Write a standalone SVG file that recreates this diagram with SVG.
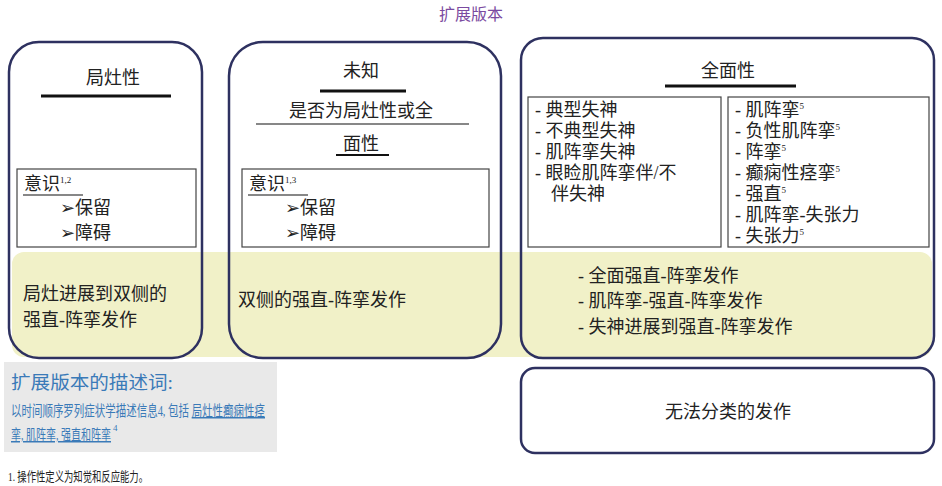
<svg xmlns="http://www.w3.org/2000/svg" width="942" height="486" viewBox="0 0 942 486">
<style>
text{font-family:"Liberation Serif","Noto Sans CJK SC",serif;fill:#222;font-size:18px}
.c{text-anchor:middle}
.box{fill:none;stroke:#2e3160;stroke-width:2.5}
.in{fill:#fff;stroke:#444;stroke-width:1.2}
.ul{stroke:#111;stroke-width:3}
.tl{stroke:#111;stroke-width:1.2}
.b{fill:#3a7ab8}
.sup{font-size:9px}
</style>
<rect width="942" height="486" fill="#fff"/>
<text class="c" x="471" y="20" style="fill:#7a4aa0;font-size:16px">扩展版本</text>
<rect x="12" y="252" width="920" height="105" rx="12" fill="#f1f1c8"/>
<g id="focal">
<rect class="box" x="9" y="42" width="193" height="316" rx="30"/>
<text class="c" x="113" y="84">局灶性</text>
<line class="ul" x1="41" y1="96" x2="171" y2="96"/>
<rect class="in" x="17" y="169" width="179" height="78"/>
<text x="24" y="190">意识<tspan class="sup" dy="-7">1,2</tspan></text>
<line class="tl" x1="23" y1="195" x2="83" y2="195"/>
<text x="60" y="214">➢保留</text>
<text x="60" y="239">➢障碍</text>
<text x="23" y="300">局灶进展到双侧的</text>
<text x="23" y="326">强直-阵挛发作</text>
</g>
<g id="unknown">
<rect class="box" x="229" y="42" width="272" height="316" rx="34"/>
<text class="c" x="361" y="77">未知</text>
<line class="ul" x1="320" y1="91" x2="406" y2="91"/>
<text class="c" x="361" y="117">是否为局灶性或全</text>
<line class="tl" x1="256" y1="124" x2="469" y2="124"/>
<text class="c" x="361" y="150">面性</text>
<line class="tl" x1="336" y1="155" x2="389" y2="155" style="stroke-width:2"/>
<rect class="in" x="242" y="169" width="247" height="78"/>
<text x="249" y="190">意识<tspan class="sup" dy="-7">1,3</tspan></text>
<line class="tl" x1="248" y1="195" x2="308" y2="195"/>
<text x="285" y="214">➢保留</text>
<text x="285" y="239">➢障碍</text>
<text x="238" y="306">双侧的强直-阵挛发作</text>
</g>
<g id="generalized">
<rect class="box" x="521" y="38" width="413" height="320" rx="22"/>
<text class="c" x="728" y="77">全面性</text>
<line class="ul" x1="665" y1="86" x2="796" y2="86"/>
<rect class="in" x="528" y="97" width="193" height="150"/>
<rect class="in" x="728" y="97" width="201" height="150"/>
<text x="535" y="116">- 典型失神</text>
<text x="535" y="137">- 不典型失神</text>
<text x="535" y="158">- 肌阵挛失神</text>
<text x="535" y="179">- 眼睑肌阵挛伴/不</text>
<text x="551" y="200">伴失神</text>
<text x="735" y="116">- 肌阵挛<tspan class="sup" dy="-7">5</tspan></text>
<text x="735" y="137">- 负性肌阵挛<tspan class="sup" dy="-7">5</tspan></text>
<text x="735" y="158">- 阵挛<tspan class="sup" dy="-7">5</tspan></text>
<text x="735" y="179">- 癫痫性痉挛<tspan class="sup" dy="-7">5</tspan></text>
<text x="735" y="200">- 强直<tspan class="sup" dy="-7">5</tspan></text>
<text x="735" y="221">- 肌阵挛-失张力</text>
<text x="735" y="242">- 失张力<tspan class="sup" dy="-7">5</tspan></text>
<text x="578" y="282">- 全面强直-阵挛发作</text>
<text x="578" y="307">- 肌阵挛-强直-阵挛发作</text>
<text x="578" y="333">- 失神进展到强直-阵挛发作</text>
</g>
<g id="descriptors">
<rect x="4" y="362" width="273" height="90" fill="#e9e9e9"/>
<text class="b" x="11" y="389" style="font-size:18px" textLength="162" lengthAdjust="spacingAndGlyphs">扩展版本的描述词:</text>
<text class="b" x="11" y="416" style="font-size:15px" textLength="254" lengthAdjust="spacingAndGlyphs">以时间顺序罗列症状学描述信息4, 包括 <tspan text-decoration="underline">局灶性癫痫性痉</tspan></text>
<text class="b" x="11" y="440" style="font-size:15px" textLength="100" lengthAdjust="spacingAndGlyphs"><tspan text-decoration="underline">挛, 肌阵挛, 强直和阵挛</tspan></text>
<text class="b sup" x="113" y="431">4</text>
</g>
<g id="unclassified">
<rect class="box" x="521" y="368" width="413" height="85" rx="14"/>
<text class="c" x="728" y="418">无法分类的发作</text>
</g>
<text x="8" y="481" style="font-size:13px" textLength="140" lengthAdjust="spacingAndGlyphs">1. 操作性定义为知觉和反应能力。</text>
<g id="connectors"/>
</svg>
